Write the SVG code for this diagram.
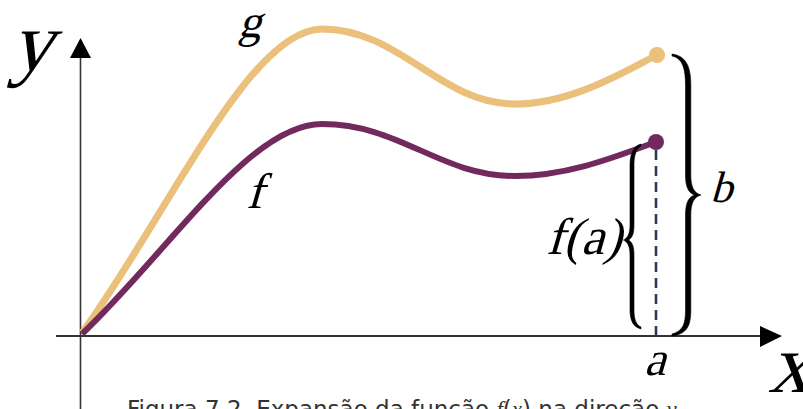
<svg xmlns="http://www.w3.org/2000/svg" width="803" height="409" viewBox="0 0 803 409">
<defs>
<style>
.ax{stroke:#333;fill:none}
.brace{fill:#000;stroke:#000;stroke-width:0.6;stroke-linejoin:round}
.cap{font-family:"DejaVu Sans",Verdana,sans-serif;font-size:23px;fill:#333}
.m{font-family:"Liberation Serif","Times New Roman",serif;font-style:normal}
</style>
</defs>
<rect width="803" height="409" fill="#fff"/>
<g id="connectors">
<line class="ax" x1="80.5" y1="409" x2="80.5" y2="55" stroke-width="1.6"/>
<polygon points="80.5,38 70,58 91,58" fill="#000"/>
<line class="ax" x1="56" y1="336" x2="765" y2="336" stroke-width="2.2"/>
<polygon points="782,336 760,326 760,347" fill="#000"/>
<line x1="656" y1="150" x2="656" y2="336" stroke="#2b3a5a" stroke-width="2.6" stroke-dasharray="10,6"/>
</g>
<g id="curve-g">
<path d="M82,333 C170,211 250,29 322,29 C400,29 440,104 515,104 C570,104 620,74 657,55" fill="none" stroke="#eac07b" stroke-width="7"/>
<circle cx="657" cy="55" r="8" fill="#eac07b"/>
</g>
<g id="curve-f">
<path d="M82,334 C170,250 250,124 322,124 C400,124 440,176 515,176 C570,176 620,155 656,142" fill="none" stroke="#722a5e" stroke-width="6"/>
<circle cx="656" cy="142" r="8" fill="#722a5e"/>
</g>
<g id="brace-fa">
<path class="brace" d="M641,144 C633.5,146 630,154 630,165 L630,225 C630,234 627.5,238 623.5,240 C627.5,242 630,246 630,255 L630,310 C630,321 633.5,327 641,329 L641,327 C636,325 634,319 634,310 L634,255 C634,246 632,242 628.5,240 C632,238 634,234 634,225 L634,165 C634,156 636,148 641,146 Z"/>
</g>
<g id="brace-b">
<path class="brace" d="M672,54 C687,56 690.8,68 690.8,85 L690.8,175 C690.8,187 694,193 701,195 C694,197 690.8,203 690.8,215 L690.8,310 C690.8,326 687,334 672,336 L672,334 C683,331 685.5,324 685.5,310 L685.5,215 C685.5,203 688.5,197 694.5,195 C688.5,193 685.5,187 685.5,175 L685.5,85 C685.5,70 683,58 672,56 Z"/>
</g>
<g id="labels" fill="#000">
<text class="m" transform="translate(10,70) skewX(-16)" font-size="84">y</text>
<text class="m" transform="translate(768,392) skewX(-16)" font-size="84">x</text>
<text class="m" transform="translate(238,37) skewX(-16)" font-size="46">g</text>
<text class="m" transform="translate(246,208) skewX(-16)" font-size="50">f</text>
<text class="m" transform="translate(546,254) skewX(-16)" font-size="52">f(a)</text>
<text class="m" transform="translate(710,202) skewX(-16)" font-size="44">b</text>
<text class="m" transform="translate(644,375) skewX(-16)" font-size="48">a</text>
</g>
<g id="caption">
<text class="cap" x="127" y="417">Figura 7.2. Expansão da função <tspan font-family="Liberation Serif, serif" font-style="italic">f</tspan>(<tspan font-family="Liberation Serif, serif" font-style="italic">x</tspan>) na direção <tspan font-family="Liberation Serif, serif" font-style="italic">y</tspan></text>
</g>
</svg>
